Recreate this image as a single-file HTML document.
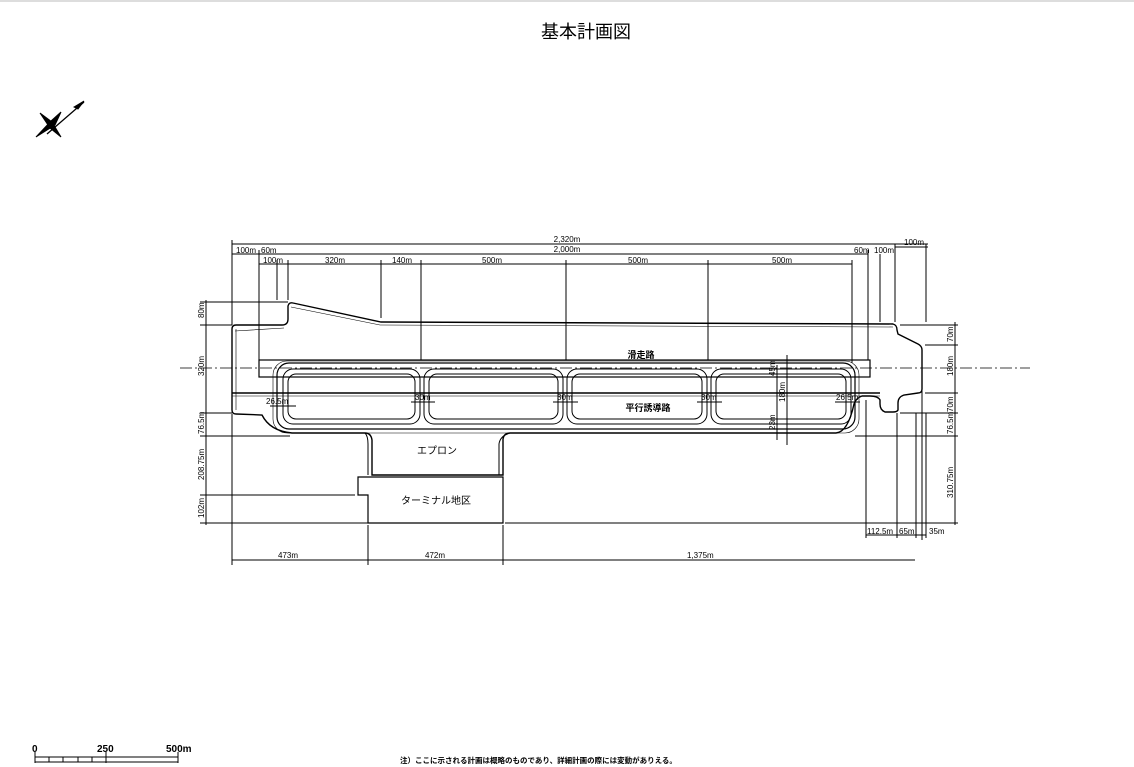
<!DOCTYPE html>
<html><head><meta charset="utf-8"><style>
html,body{margin:0;padding:0;background:#fff;}
svg{display:block;}
text{font-family:"Liberation Sans","Noto Sans CJK JP",sans-serif;fill:#000;}
.d{font-size:8px;font-family:"Liberation Mono","Noto Sans CJK JP",monospace;}
</style></head><body>
<svg width="1134" height="767" viewBox="0 0 1134 767" xmlns="http://www.w3.org/2000/svg">
<rect width="1134" height="767" fill="#fff"/>
<line x1="0" y1="1" x2="1134" y2="1" stroke="#bbb" stroke-width="1"/>
<text x="586" y="38" font-size="18" text-anchor="middle">基本計画図</text>

<!-- compass -->
<g stroke="#000" fill="#000">
<line x1="47" y1="134" x2="84" y2="102" stroke-width="1.3"/>
<path d="M36 137 L51 121 L61 112 L55 125Z"/>
<path d="M40 113 L52 122 L61 137 L50 128Z"/>
<path d="M74 107 L84 101 L78 109Z"/>
</g>

<g fill="none" stroke="#000" stroke-width="1">
<!-- top dims -->
<line x1="232" y1="244" x2="928" y2="244"/>
<line x1="232" y1="254" x2="868" y2="254"/>
<line x1="259" y1="264" x2="852" y2="264"/>
<line x1="895" y1="247" x2="928" y2="247"/>
<line x1="232" y1="240" x2="232" y2="325"/>
<line x1="259" y1="250" x2="259" y2="360"/>
<line x1="277" y1="260" x2="277" y2="300"/>
<line x1="288" y1="260" x2="288" y2="300"/>
<line x1="381" y1="260" x2="381" y2="318"/>
<line x1="421" y1="260" x2="421" y2="360"/>
<line x1="566" y1="260" x2="566" y2="360"/>
<line x1="708" y1="260" x2="708" y2="360"/>
<line x1="852" y1="260" x2="852" y2="363"/>
<line x1="868" y1="250" x2="868" y2="360"/>
<line x1="880" y1="254" x2="880" y2="322"/>
<line x1="895" y1="244" x2="895" y2="322"/>
<line x1="926" y1="244" x2="926" y2="322"/>
<line x1="922" y1="350" x2="922" y2="540"/>

<!-- main outline -->
<path d="M232 329 Q232 325 236 325 L282 325 Q288 325 288 319 L288 306 Q289 302 293 303 L381 322 L893 324 Q897 325 897 330 L898 334 L918 344 Q922 346 922 350 L922 389 Q922 393 918 393 L904 395 Q898 397 898 403 L898 410 Q897 412 893 412 L885 412 Q880 410 880 404 L880 400 Q878 396 870 396 L862 396 Q856 398 854 404 Q848 432 836 433 L510 433 Q504 433 503 439 L503 475 L372 475 L372 440 Q371 433 365 433 L292 433 Q270 431 262 415 L236 414 Q232 414 232 410 Z" stroke-width="1.4"/>
<path d="M235 331 L284 328 M291 307 L380 325 L893 327" stroke-width="0.6"/>
<path d="M236 329 L236 410" stroke-width="0.6"/>
<path d="M365 433 Q368 436 368 444 L368 475" />
<path d="M510 433 Q500 436 499 444 L499 475" />
<!-- runway -->
<rect x="259" y="360" width="611" height="17" stroke-width="1.2"/>
<line x1="180" y1="368" x2="1030" y2="368" stroke-dasharray="12 3 2 3" stroke-width="0.8"/>
<line x1="232" y1="393" x2="880" y2="393" stroke-width="1.6"/>
<line x1="232" y1="396" x2="880" y2="396" stroke-width="0.6"/>
<!-- taxiway loops -->
<rect x="277" y="363" width="578" height="66" rx="12" stroke-width="1.2"/>
<rect x="273" y="361" width="586" height="72" rx="14" stroke-width="0.6"/>
<rect x="283" y="369" width="137" height="55" rx="10"/>
<rect x="288" y="374" width="127" height="45" rx="8"/>
<rect x="424" y="369" width="139" height="55" rx="10"/>
<rect x="429" y="374" width="129" height="45" rx="8"/>
<rect x="567" y="369" width="140" height="55" rx="10"/>
<rect x="572" y="374" width="130" height="45" rx="8"/>
<rect x="711" y="369" width="140" height="55" rx="10"/>
<rect x="716" y="374" width="130" height="45" rx="8"/>
<!-- terminal -->
<path d="M358 477 L503 477 L503 523 L368 523 L368 495 L358 495 Z" stroke-width="1.2"/>

<!-- left dims -->
<line x1="206" y1="300" x2="206" y2="525"/>
<line x1="200" y1="302" x2="288" y2="302"/>
<line x1="200" y1="325" x2="232" y2="325"/>
<line x1="200" y1="413" x2="232" y2="413"/>
<line x1="200" y1="436" x2="290" y2="436"/>
<line x1="200" y1="495" x2="355" y2="495"/>
<line x1="200" y1="523" x2="368" y2="523"/>
<line x1="232" y1="414" x2="232" y2="565"/>
<line x1="368" y1="525" x2="368" y2="565"/>
<line x1="503" y1="525" x2="503" y2="565"/>
<line x1="232" y1="560" x2="915" y2="560"/>

<!-- right dims -->
<line x1="955" y1="322" x2="955" y2="525"/>
<line x1="900" y1="325" x2="958" y2="325"/>
<line x1="925" y1="345" x2="958" y2="345"/>
<line x1="925" y1="393" x2="958" y2="393"/>
<line x1="900" y1="413" x2="958" y2="413"/>
<line x1="855" y1="436" x2="958" y2="436"/>
<line x1="505" y1="523" x2="958" y2="523"/>
<line x1="866" y1="400" x2="866" y2="538"/>
<line x1="897" y1="413" x2="897" y2="538"/>
<line x1="916" y1="413" x2="916" y2="538"/>
<line x1="926" y1="413" x2="926" y2="538"/>
<line x1="866" y1="535" x2="926" y2="535"/>
<line x1="787" y1="355" x2="787" y2="445"/>
<line x1="777" y1="365" x2="777" y2="440"/>
<line x1="270" y1="406" x2="296" y2="406"/>
<line x1="411" y1="402" x2="435" y2="402"/>
<line x1="553" y1="402" x2="578" y2="402"/>
<line x1="697" y1="402" x2="722" y2="402"/>
<line x1="835" y1="402" x2="860" y2="402"/>
</g>

<!-- scale bar -->
<g stroke="#000" fill="none" stroke-width="1">
<line x1="35" y1="757" x2="178" y2="757"/>
<line x1="35" y1="762" x2="178" y2="762"/>
<line x1="35" y1="752" x2="35" y2="763"/>
<line x1="106" y1="752" x2="106" y2="763"/>
<line x1="178" y1="752" x2="178" y2="763"/>
<line x1="49" y1="757" x2="49" y2="762"/><line x1="63" y1="757" x2="63" y2="762"/>
<line x1="78" y1="757" x2="78" y2="762"/><line x1="92" y1="757" x2="92" y2="762"/>
</g>
<text x="32" y="752" font-size="10" font-weight="bold" font-family="Liberation Serif">0</text>
<text x="97" y="752" font-size="10" font-weight="bold" font-family="Liberation Serif">250</text>
<text x="166" y="752" font-size="10" font-weight="bold" font-family="Liberation Serif">500m</text>
<text x="400" y="763" font-size="7.5" font-weight="bold">注）ここに示される計画は概略のものであり、詳細計画の際には変動がありえる。</text>

<!-- labels -->
<text x="641" y="358" font-size="9" text-anchor="middle" font-weight="bold">滑走路</text>
<text x="648" y="411" font-size="9" text-anchor="middle" font-weight="bold">平行誘導路</text>
<text x="437" y="454" font-size="10" text-anchor="middle">エプロン</text>
<text x="436" y="504" font-size="10" text-anchor="middle">ターミナル地区</text>

<g class="d">
<text x="567" y="242" text-anchor="middle">2,320m</text>
<text x="567" y="252" text-anchor="middle">2,000m</text>
<text x="236" y="253">100m</text><text x="261" y="253">60m</text>
<text x="263" y="263">100m</text><text x="325" y="263">320m</text>
<text x="392" y="263">140m</text><text x="482" y="263">500m</text>
<text x="628" y="263">500m</text><text x="772" y="263">500m</text>
<text x="854" y="253">60m</text><text x="874" y="253">100m</text>
<text x="904" y="245">100m</text>
<text x="266" y="404">26.5m</text><text x="415" y="400">30m</text>
<text x="557" y="400">30m</text><text x="701" y="400">30m</text>
<text x="836" y="400">26.5m</text>
<text x="278" y="558">473m</text><text x="425" y="558">472m</text>
<text x="687" y="558">1,375m</text>
<text x="867" y="534">112.5m</text><text x="899" y="534">65m</text><text x="929" y="534">35m</text>
<text transform="translate(204,318) rotate(-90)">80m</text>
<text transform="translate(204,376) rotate(-90)">320m</text>
<text transform="translate(204,434) rotate(-90)">76.5m</text>
<text transform="translate(204,480) rotate(-90)">208.75m</text>
<text transform="translate(204,518) rotate(-90)">102m</text>
<text transform="translate(953,342) rotate(-90)">70m</text>
<text transform="translate(953,376) rotate(-90)">180m</text>
<text transform="translate(953,412) rotate(-90)">70m</text>
<text transform="translate(953,434) rotate(-90)">76.5m</text>
<text transform="translate(953,498) rotate(-90)">310.75m</text>
<text transform="translate(785,402) rotate(-90)">180m</text>
<text transform="translate(775,376) rotate(-90)">45m</text>
<text transform="translate(775,430) rotate(-90)">23m</text>
</g>
</svg>
</body></html>
